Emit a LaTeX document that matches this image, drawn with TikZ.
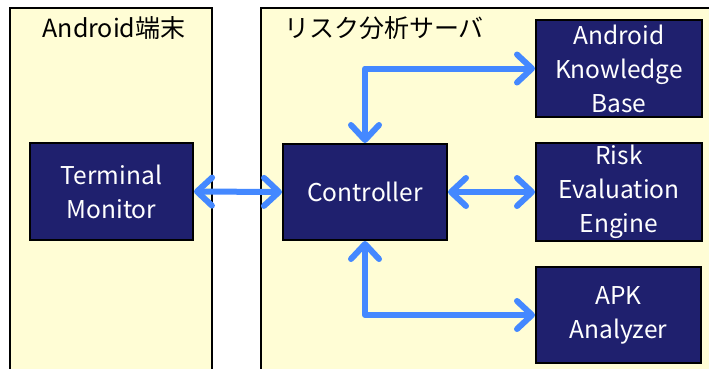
\documentclass[tikz,border=0pt]{standalone}
\usepackage{fontspec}
\setmainfont{Noto Sans CJK JP}
\usetikzlibrary{arrows.meta}
\definecolor{panelfill}{RGB}{255,253,213}
\definecolor{boxfill}{RGB}{31,32,110}
\definecolor{arrowblue}{RGB}{68,136,255}
\tikzset{
  panel/.style={draw=black, line width=1.5pt, fill=panelfill},
  comp/.style={draw=black, line width=2pt, fill=boxfill, text=white, align=center,
    font=\fontsize{24.5}{34}\selectfont, inner sep=0pt},
  title/.style={font=\fontsize{25}{28}\selectfont, inner sep=0pt},
  link/.style={draw=arrowblue, line width=6pt, line join=round,
    {Straight Barb[round,length=15pt,width=28pt]}-{Straight Barb[round,length=15pt,width=28pt]}}
}
\begin{document}
\begin{tikzpicture}[x=1pt,y=-1pt]
\useasboundingbox (0,0) rectangle (709,368);
\clip (0,0) rectangle (709,368);
\fill[white] (0,0) rectangle (709,368);
\draw[panel] (10,8) rectangle (212,380);
\draw[panel] (261,8) rectangle (720,380);
\node[title] (t1) at (114,28) {Android端末};
\node[title] (t2) at (384,28) {リスク分析サーバ};
\node[comp, minimum width=163pt, minimum height=97pt] (tm) at (111.5,191.5) {Terminal\\Monitor};
\node[comp, minimum width=164pt, minimum height=96pt] (ctrl) at (365,192) {Controller};
\node[comp, minimum width=166pt, minimum height=97pt] (akb) at (619,68.5) {Android\\Knowledge\\Base};
\node[comp, minimum width=166pt, minimum height=98pt] (ree) at (619,192) {Risk\\Evaluation\\Engine};
\node[comp, minimum width=165pt, minimum height=96pt] (apk) at (618.5,315) {APK\\Analyzer};
\draw[link] (tm.east) -- (ctrl.west);
\draw[link] (ctrl.east) -- (ree.west);
\draw[link] (ctrl.north) |- (akb.west);
\draw[link] (ctrl.south) |- (apk.west);
\end{tikzpicture}
\end{document}
